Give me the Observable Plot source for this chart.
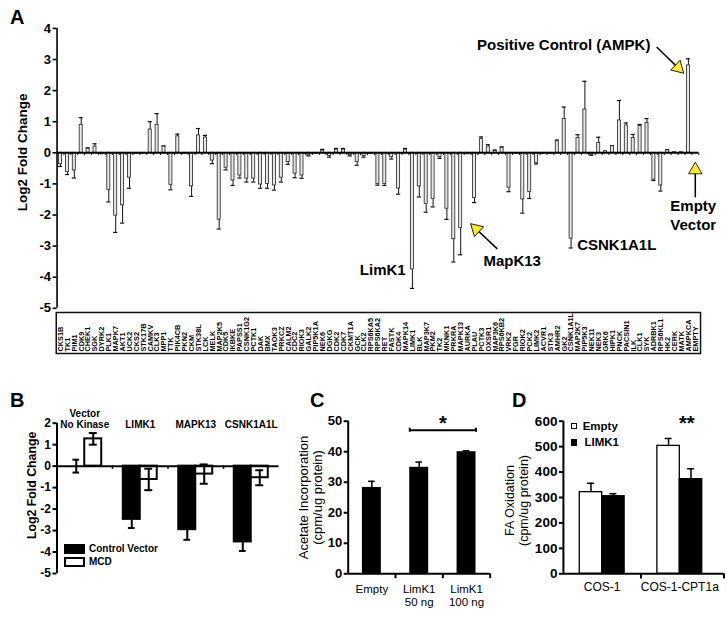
<!DOCTYPE html>
<html><head><meta charset="utf-8">
<script src="https://cdn.jsdelivr.net/npm/d3@7"></script>
<script src="https://cdn.jsdelivr.net/npm/@observablehq/plot@0.6"></script>
<style>
body{margin:0;background:#fff;}
#wrap{position:relative;width:727px;height:617px;overflow:hidden;font-family:"Liberation Sans",Arial,sans-serif;color:#000;}
.abs{position:absolute;white-space:nowrap;}
.letter{font-weight:bold;font-size:20px;line-height:20px;}
</style></head><body><div id="wrap"></div>
<script>
// ---------- Panel A data ----------
const kinases = ["CKS1B","TK1","PIM1","CDK9","CHEK1","SGK","DYRK2","PLK1","MAPK7","AKT1","UCK2","CKS2","STK17B","CAMKV","CLK3","MPP1","TTK","PIK4CB","PKN2","CKM","STK38L","LCK","MELK","MAP2K5","CDK5","IKBKE","PAPSS1","CSNK1G2","PCTK1","DAK","BMX","TAOK3","PRKCZ","CALM2","CDC2","RIOK3","GALK2","PIP5K1A","NEK6","DGKG","CDK2","CDK7","CKMT1A","GCK","CLK2","RPS6KA5","RPS6KA2","RET","FASTK","CDK4","MAPK14","LIMK1","BLK","MAP3K7","PKM2","TK2","MKNK1","PRKRA","MAPK13","AURKA","PLAU","PCTK3","OXSR1","MAP3K6","RPS6KB2","VRK2","FGR","RIOK2","PCK2","LIMK2","ACVR1","STK3","AMHR2","GK2","CSNK1A1L","MAP2K7","PIP5K3","NEK11","NEK3","GRK6","HIPK1","PNCK","PACSIN1","ILK","CLK1","SYK","ADRBK1","RPS6KL1","HK2","CERK","MATK","AMPKCA","EMPTY"];
const foldChange = [-0.37,-0.62,-0.57,0.90,0.13,0.20,-0.05,-1.19,-2.02,-1.69,-0.80,-0.03,-0.03,0.75,0.90,0.20,-1.03,0.53,-0.03,-1.08,0.56,0.49,-0.25,-2.15,
 -0.48,-0.89,-0.73,-0.83,-0.83,-1.02,-1.00,-1.05,-0.80,-0.30,-0.67,-0.73,-0.08,-0.03,0.07,-0.10,0.10,0.10,-0.07,-0.30,-0.10,-0.03,-1.00,-1.00,
 -0.14,-1.15,0.10,-3.75,-1.08,-1.64,-1.48,-0.14,-1.80,-2.78,-2.42,-0.05,-1.45,0.44,0.20,0.06,0.16,-1.12,-0.03,-1.50,-1.26,-0.33,-0.03,-0.03,
 0.37,1.09,-2.76,0.48,1.39,-0.06,0.32,0.05,0.21,1.04,0.88,0.48,0.86,0.96,-0.86,-1.05,0.08,0.02,0.02,2.81,0.00];
const foldErr = [0.07,0.08,0.24,0.23,0.03,0.09,0,0.39,0.54,0.57,0.34,0,0,0.25,0.36,0.02,0.16,0.07,0,0.32,0.22,0.07,0.10,0.30,
 0.07,0.16,0.08,0.11,0.11,0.12,0.14,0.15,0.14,0.07,0.13,0.09,0.02,0,0.04,0.04,0.04,0.04,0.03,0.10,0.04,0,0.04,0.05,
 0.06,0.18,0.04,0.61,0.34,0.27,0.26,0.04,0.34,0.73,0.86,0,0.15,0.07,0.06,0.03,0.03,0.13,0,0.44,0.21,0.03,0,0,
 0.04,0.38,0.30,0.10,0.91,0.02,0.18,0,0.02,0.64,0.08,0.11,0.05,0.14,0.03,0.18,0.02,0,0,0.21,0];
const yTicksA = [-5,-4,-3,-2,-1,0,1,2,3,4];
const calloutsA = [
  {k:"AMPKCA", di:-5.5, y:3.48, text:"Positive Control (AMPK)", anchor:"end"},
  {k:"EMPTY", di:-0.3, y:-1.99, text:"Empty\nVector", anchor:"middle"},
  {k:"LIMK1", di:-4.3, y:-3.73, text:"LimK1", anchor:"middle"},
  {k:"MAPK13", di:7.46, y:-3.44, text:"MapK13", anchor:"middle"},
  {k:"CSNK1A1L", di:0.88, y:-2.93, text:"CSNK1A1L", anchor:"start"}
];
const arrowsA = [
  {k:"AMPKCA", di1:-4.6, y1:3.40, di2:-1.48, y2:2.73, rot:134},
  {k:"EMPTY", di1:0, y1:-1.43, di2:0, y2:-0.55, rot:0},
  {k:"MAPK13", di1:5.3, y1:-3.09, di2:2.25, y2:-2.45, rot:-47}
];

// ---------- Panel B data ----------
const groupsB = ["Vector\nNo Kinase","LIMK1","MAPK13","CSNK1A1L"];
const seriesB = ["Control Vector","MCD"];
const controlB = [0.0,-2.48,-2.96,-3.53];
const controlErrB = [0.3,0.4,0.47,0.42];
const mcdB = [1.27,-0.62,-0.37,-0.54];
const mcdErrB = [0.27,0.5,0.45,0.35];
const yTicksB = [-5,-4,-3,-2,-1,0,1,2];

// ---------- Panel C data ----------
const catsC = ["Empty","LimK1\n50 ng","LimK1\n100 ng"];
const acetate = [28.3,34.9,40.0];
const acetateErr = [2.0,1.7,0.3];
const yTicksC = [0,10,20,30,40,50];

// ---------- Panel D data ----------
const cellsD = ["COS-1","COS-1-CPT1a"];
const seriesD = ["Empty","LIMK1"];
const faEmpty = [321,503];
const faEmptyErr = [35,29];
const faLimk = [305,372];
const faLimkErr = [10,41];
const yTicksD = [0,100,200,300,400,500,600];

const FONT = '"Liberation Sans", Arial, sans-serif';
const wrap = document.getElementById("wrap");
function place(el, left, top){ el.style.position="absolute"; el.style.left=left+"px"; el.style.top=top+"px"; wrap.appendChild(el); }
function html(str, left, top, css, cls){ const d=document.createElement("div"); d.className="abs"+(cls?" "+cls:""); d.textContent=str; d.style.left=left+"px"; d.style.top=top+"px"; if(css) d.style.cssText+=css; wrap.appendChild(d); return d; }
const baseStyle = {background:"none", fontFamily: FONT, overflow:"visible", color:"#000"};

// ---------- Panel A ----------
const pos = k => kinases.indexOf(k);
const dataA = kinases.map((k,i)=>({k, i, v: foldChange[i], e: foldErr[i]}));
const errA = dataA.filter(d=>d.e>0);
const endA = d => d.v + (d.v<0?-1:1)*d.e;
const nA = kinases.length;
const calloutText = anchor => Plot.text(calloutsA.filter(d=>d.anchor===anchor),
  {x:d=>pos(d.k)+d.di, y:"y", text:"text", textAnchor:anchor, fontSize:15, fontWeight:"bold", lineHeight:1.22});

const plotA = Plot.plot({
  width:727, height:315, marginTop:27.9, marginBottom:7.2, marginLeft:56.55, marginRight:28.75,
  x:{domain:[-0.5,nA-0.5], axis:null},
  y:{domain:[-5,4]},
  style: baseStyle,
  marks:[
    Plot.ruleX(errA, {x:"i", y1:"v", y2:endA, stroke:"#111", strokeWidth:1}),
    Plot.ruleY(errA, {y:endA, x1:d=>d.i-0.3, x2:d=>d.i+0.3, stroke:"#111", strokeWidth:1.2}),
    Plot.rect(dataA, {x1:d=>d.i-0.22, x2:d=>d.i+0.22, y1:0, y2:"v", fill:"#e6e6e6", stroke:"#222", strokeWidth:0.8}),
    Plot.ruleX(dataA, {x:d=>d.i+0.5, y1:0, y2:-0.09, stroke:"#111", strokeWidth:1}),
    Plot.ruleY([0], {stroke:"#000", strokeWidth:2}),
    Plot.ruleX([-0.5], {y1:-5, y2:4, stroke:"#000", strokeWidth:1.6}),
    Plot.axisY({ticks:yTicksA, tickSize:4, tickPadding:2, tickFormat:d=>String(d), fontSize:13, fontWeight:"bold", strokeWidth:1.6, label:null}),
    Plot.text(["Log2 Fold Change"], {text:d=>d, frameAnchor:"left", textAnchor:"middle", rotate:-90, dx:-34.5, dy:-16, fontSize:13.5, fontWeight:"bold"}),
    Plot.link(arrowsA, {x1:d=>pos(d.k)+d.di1, y1:"y1", x2:d=>pos(d.k)+d.di2, y2:"y2", stroke:"#000", strokeWidth:1.5}),
    Plot.dot(arrowsA, {x:d=>pos(d.k)+d.di2, y:"y2", symbol:"triangle", r:5, rotate:"rot", fill:"#f6ec2b", stroke:"#000", strokeWidth:0.8}),
    calloutText("start"), calloutText("middle"), calloutText("end")
  ]
});
place(plotA, 0, 0);

const plotLabels = Plot.plot({
  width:727, height:45, marginTop:2, marginBottom:2, marginLeft:56.55, marginRight:28.75,
  x:{domain:[-0.5,nA-0.5], axis:null},
  y:{domain:[0,1], axis:null},
  style: baseStyle,
  marks:[
    Plot.frame({stroke:"#111", strokeWidth:1.5, insetLeft:-0.8, insetRight:-1.8}),
    Plot.text(kinases, {x:(d,i)=>i, y:0, text:d=>d, rotate:-90, textAnchor:"start", dy:-2, fontSize:7.3, fontWeight:"bold"})
  ]
});
place(plotLabels, 0, 310);

// ---------- Panel B ----------
const dataB = groupsB.flatMap((g,i)=>[
  {g, i, s:seriesB[0], v:controlB[i], e:controlErrB[i], c:i-0.153, x1:i-0.306, x2:i, fill:"#000", cap:0.06},
  {g, i, s:seriesB[1], v:mcdB[i], e:mcdErrB[i], c:i+0.153, x1:i, x2:i+0.306, fill:"#fff", cap:0.072}
]);
const plotB = Plot.plot({
  width:285, height:190, marginTop:27.7, marginBottom:12, marginLeft:56.5, marginRight:6.5,
  x:{domain:[-0.5,groupsB.length-0.5], axis:null},
  y:{domain:[-5,2]},
  style: baseStyle,
  marks:[
    Plot.rect(dataB, {x1:"x1", x2:"x2", y1:0, y2:"v", fill:"fill", stroke:"#000", strokeWidth:2}),
    Plot.ruleX(dataB, {x:"c", y1:d=>d.v-d.e, y2:d=>d.v+d.e, stroke:"#000", strokeWidth:2}),
    Plot.ruleY(dataB, {y:d=>d.v-d.e, x1:d=>d.c-d.cap, x2:d=>d.c+d.cap, stroke:"#000", strokeWidth:2}),
    Plot.ruleY(dataB.filter(d=>d.s==="MCD"||d.i===0), {y:d=>d.v+d.e, x1:d=>d.c-d.cap, x2:d=>d.c+d.cap, stroke:"#000", strokeWidth:2}),
    Plot.ruleY([0], {stroke:"#000", strokeWidth:2}),
    Plot.ruleX(groupsB.slice(1).map((g,i)=>i+0.5), {x:d=>d, y1:0, y2:-0.15, stroke:"#000", strokeWidth:1.5}),
    Plot.ruleX([-0.5], {y1:-5, y2:2, stroke:"#000", strokeWidth:2}),
    Plot.axisY({ticks:yTicksB, tickSize:4, tickPadding:2, tickFormat:d=>String(d), fontSize:12, fontWeight:"bold", strokeWidth:2, label:null}),
    Plot.text(["Log2 Fold Change"], {text:d=>d, frameAnchor:"left", textAnchor:"middle", rotate:-90, dx:-24.8, dy:-13, fontSize:12.3, fontWeight:"bold"}),
    Plot.text(groupsB, {x:(d,i)=>i, y:2, text:d=>d, lineAnchor:"bottom", dy:5, fontSize:10, fontWeight:"bold", lineHeight:1.1})
  ]
});
place(plotB, 0, 395);

// ---------- Panel C ----------
const dataC = catsC.map((c,i)=>({c, i, v:acetate[i], e:acetateErr[i]}));
const plotC = Plot.plot({
  width:215, height:215, marginTop:25.7, marginBottom:36.7, marginLeft:62.7, marginRight:10.3,
  x:{domain:[-0.5,catsC.length-0.5], axis:null},
  y:{domain:[0,50]},
  style: baseStyle,
  marks:[
    Plot.ruleX(dataC, {x:"i", y1:"v", y2:d=>d.v+d.e, stroke:"#000", strokeWidth:1.5}),
    Plot.ruleY(dataC, {y:d=>d.v+d.e, x1:d=>d.i-0.07, x2:d=>d.i+0.07, stroke:"#000", strokeWidth:1.5}),
    Plot.rect(dataC, {x1:d=>d.i-0.2, x2:d=>d.i+0.2, y1:0, y2:"v", fill:"#000"}),
    Plot.ruleY([0], {stroke:"#000", strokeWidth:2}),
    Plot.ruleX([0.5,1.5,2.5], {x:d=>d, y1:0, y2:-1.6, stroke:"#000", strokeWidth:2}),
    Plot.ruleX([-0.5], {y1:0, y2:50, stroke:"#000", strokeWidth:2}),
    Plot.axisY({ticks:yTicksC, tickSize:4, tickPadding:2, tickFormat:d=>String(d), fontSize:13, fontWeight:"bold", strokeWidth:2, label:null}),
    Plot.text(["Acetate Incorporation\n(cpm/ug protein)"], {text:d=>d, frameAnchor:"left", textAnchor:"middle", rotate:-90, dx:-37.7, dy:0, fontSize:13, lineHeight:1.05}),
    Plot.text(dataC, {x:"i", y:0, text:"c", lineAnchor:"top", dy:9, fontSize:11.5, lineHeight:1.2}),
    Plot.link([{a:0.8, b:2.2}], {x1:"a", x2:"b", y1:47.06, y2:47.06, stroke:"#000", strokeWidth:2}),
    Plot.ruleX([0.8,2.2], {x:d=>d, y1:46.4, y2:47.7, stroke:"#000", strokeWidth:2}),
    Plot.text(["*"], {text:d=>d, x:1.5, y:51.7, lineAnchor:"top", fontSize:20, fontWeight:"bold"})
  ]
});
place(plotC, 285, 395);

// ---------- Panel D ----------
const dataD = cellsD.flatMap((c,i)=>[
  {c, i, s:seriesD[0], v:faEmpty[i], e:faEmptyErr[i], x1:i-0.289, x2:i, cx:i-0.1445, fill:"#fff"},
  {c, i, s:seriesD[1], v:faLimk[i], e:faLimkErr[i], x1:i, x2:i+0.289, cx:i+0.1445, fill:"#000"}
]);
const plotD = Plot.plot({
  width:232, height:215, marginTop:25.7, marginBottom:36.7, marginLeft:67.9, marginRight:8.9,
  x:{domain:[-0.5,cellsD.length-0.5], axis:null},
  y:{domain:[0,600]},
  style: baseStyle,
  marks:[
    Plot.ruleX(dataD, {x:"cx", y1:"v", y2:d=>d.v+d.e, stroke:"#000", strokeWidth:1.5}),
    Plot.ruleY(dataD, {y:d=>d.v+d.e, x1:d=>d.cx-0.045, x2:d=>d.cx+0.045, stroke:"#000", strokeWidth:1.5}),
    Plot.rect(dataD, {x1:"x1", x2:"x2", y1:0, y2:"v", fill:"fill", stroke:"#000", strokeWidth:1.3}),
    Plot.ruleY([0], {x1:-0.5, x2:1.57, stroke:"#000", strokeWidth:2}),
    Plot.ruleX([0.5,1.57], {x:d=>d, y1:0, y2:-20, stroke:"#000", strokeWidth:2}),
    Plot.ruleX([-0.5], {y1:0, y2:600, stroke:"#000", strokeWidth:2}),
    Plot.axisY({ticks:yTicksD, tickSize:4, tickPadding:2, tickFormat:d=>String(d), fontSize:13.5, fontWeight:"bold", strokeWidth:2, label:null}),
    Plot.text(["FA Oxidation\n(cpm/ug protein)"], {text:d=>d, frameAnchor:"left", textAnchor:"middle", rotate:-90, dx:-47, dy:3, fontSize:12.5, lineHeight:1.1}),
    Plot.text(cellsD, {x:(d,i)=>i, y:0, text:d=>d, lineAnchor:"top", dy:9, fontSize:12}),
    Plot.text(["**"], {text:d=>d, x:1.09, y:622, lineAnchor:"top", fontSize:20, fontWeight:"bold"})
  ]
});
place(plotD, 495, 395);

// ---------- panel letters & legends ----------
html("A", 10, 7, "", "letter");
html("B", 10, 390, "", "letter");
html("C", 310, 390, "", "letter");
html("D", 512, 390, "", "letter");

// Legend B
html("", 64, 544, "width:21px;height:10px;background:#000;");
html("", 64, 557, "width:21px;height:10px;background:#fff;border:2px solid #000;box-sizing:border-box;");
html(seriesB[0], 89, 544, "font-size:10px;line-height:10px;font-weight:bold;");
html(seriesB[1], 89, 557, "font-size:10px;line-height:10px;font-weight:bold;");
// Legend D
html("", 570.7, 422.7, "width:6.5px;height:6.5px;background:#fff;border:1px solid #000;box-sizing:border-box;");
html("", 570.7, 439.3, "width:6.5px;height:6.5px;background:#000;");
html(seriesD[0], 582.7, 419.7, "font-size:11.5px;line-height:12px;font-weight:bold;");
html(seriesD[1], 584.5, 436, "font-size:11.5px;line-height:12px;font-weight:bold;");
</script>
</body></html>
